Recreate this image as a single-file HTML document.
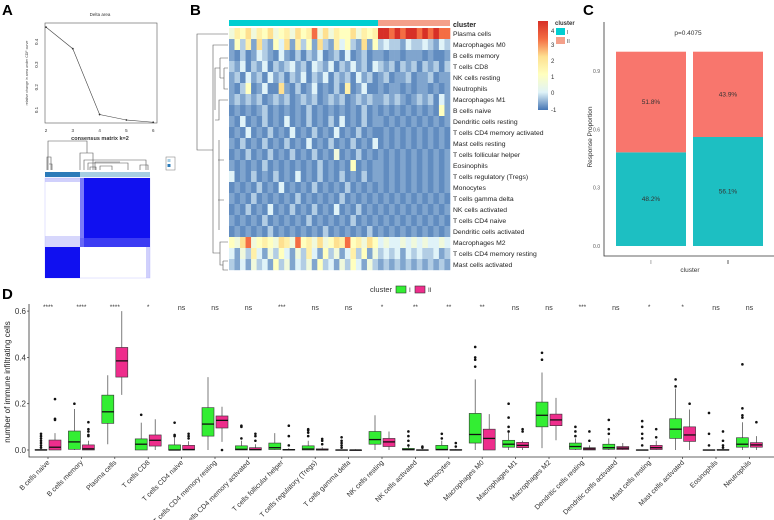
<!DOCTYPE html>
<html><head><meta charset="utf-8"><style>
html,body{margin:0;padding:0;background:#fff;width:774px;height:520px;overflow:hidden}
svg{font-family:"Liberation Sans",Arial,sans-serif;display:block}
</style></head><body>
<svg id="s" width="774" height="520" viewBox="0 0 774 520" xmlns="http://www.w3.org/2000/svg">
<g>
<text x="2" y="15" font-size="15" font-weight="bold">A</text>
<text x="100" y="16" font-size="4.5" text-anchor="middle" fill="#333">Delta area</text>
<rect x="45" y="23" width="112" height="100" fill="none" stroke="#555" stroke-width="0.6"/>
<g id="deltaG"></g>
<text x="100" y="140" font-size="5.5" font-weight="bold" text-anchor="middle" fill="#333">consensus matrix k=2</text>
<g stroke="#555" stroke-width="0.6" fill="none">
<path d="M48,170 V141 H87 V153 M47,170 V157 H51 V170 M49,164 H52 V170 M80,170 V153 H93 V170 M87,153 V153 M84,170 V160 H146 V170 M88,170 V163 H128 V170 M95,170 V162 H120 M100,170 V166 H112 V170 M90,170 V167 H96 V170 M140,170 V165 H148 V170"/>
</g>
<rect x="45" y="172" width="35" height="5" fill="#2b7bb9"/>
<rect x="80" y="172" width="70" height="5" fill="#a6cee3"/>
<rect x="45" y="178" width="105" height="100" fill="#fff" stroke="#c8c8ff" stroke-width="0.5"/>
<rect x="80" y="178" width="70" height="69" fill="#1010f0"/>
<rect x="45" y="247" width="35" height="31" fill="#1010f0"/>
<rect x="80" y="178" width="4" height="69" fill="#7a7af8"/>
<rect x="80" y="238" width="70" height="9" fill="#5a5af5" opacity="0.6"/>
<rect x="45" y="178" width="35" height="4" fill="#b0b0fa" opacity="0.6"/>
<rect x="45" y="236" width="35" height="11" fill="#b0b0fa" opacity="0.5"/>
<rect x="146" y="247" width="4" height="31" fill="#b0b0fa" opacity="0.6"/>
<rect x="166" y="157" width="9" height="13" fill="#fff" stroke="#777" stroke-width="0.5"/>
<rect x="167.5" y="159" width="3" height="3" fill="#a6cee3"/>
<rect x="167.5" y="164" width="3" height="3" fill="#2b7bb9"/>
</g>
<g>
<text x="190" y="15" font-size="15" font-weight="bold">B</text>
<g id="heatG"></g>
<g stroke="#555" stroke-width="0.6" fill="none">
<path d="M228,34 H197 V150 H213 M213,150 V45 H228 M213,150 V253 H220 M220,253 V242 H228 M220,253 V265 H223 M223,261 V270 H228 M223,261 H228 M215,110 V68 H220 M220,58 V78 M220,58 H228 M220,78 H224 M224,68 V89 H228 M224,68 H228 M215,120 H219 V100 H228 M219,140 V230 M218,160 H224 M218,200 H224"/>
</g>
<text x="453" y="27" font-size="7" font-weight="bold" fill="#222">cluster</text>
<g>
<defs><linearGradient id="cb" x1="0" y1="1" x2="0" y2="0">
<stop offset="0" stop-color="#4575b4"/><stop offset="0.2" stop-color="#e0f3f8"/><stop offset="0.4" stop-color="#ffffbf"/><stop offset="0.6" stop-color="#fee090"/><stop offset="0.8" stop-color="#f46d43"/><stop offset="1" stop-color="#d73027"/></linearGradient></defs>
<rect x="538" y="21" width="10" height="89" fill="url(#cb)"/>
<g font-size="6" fill="#333">
<text x="551" y="33">4</text><text x="551" y="47">3</text><text x="551" y="63">2</text><text x="551" y="79">1</text><text x="551" y="95">0</text><text x="551" y="112">-1</text></g>
</g>
<g>
<text x="555" y="25" font-size="6" font-weight="bold" fill="#333">cluster</text>
<rect x="556" y="28" width="9" height="7" fill="#00ced1"/>
<rect x="556" y="37" width="9" height="7" fill="#f4a08a"/>
<text x="567" y="34" font-size="5" fill="#333">I</text><text x="567" y="43" font-size="5" fill="#333">II</text>
</g>
</g>
<g>
<text x="583" y="15" font-size="15" font-weight="bold">C</text>
<g id="propG"></g>
</g>
<g>
<text x="2" y="299" font-size="15" font-weight="bold">D</text>
<g>
<text x="370" y="292" font-size="7.5" fill="#333">cluster</text>
<rect x="396" y="286" width="10" height="7" fill="#33ee33" stroke="#333" stroke-width="0.6"/>
<text x="409" y="292" font-size="6.5" fill="#333">I</text>
<rect x="415" y="286" width="10" height="7" fill="#ee2d8c" stroke="#333" stroke-width="0.6"/>
<text x="428" y="292" font-size="6.5" fill="#333">II</text>
</g>
<text transform="translate(10,382) rotate(-90)" font-size="8" text-anchor="middle" fill="#222">number of immune infiltrating  cells</text>
<g id="boxG"></g>
</g>
</svg>
<script>
// ---------- Panel A data ----------
const deltaK = [2,3,4,5,6];
const deltaVals = [0.465,0.37,0.08,0.056,0.046];
const deltaYTicks = [0.1,0.2,0.3,0.4];
// ---------- Panel B data ----------
const heatRows = ["Plasma cells","Macrophages M0","B cells memory","T cells CD8","NK cells resting","Neutrophils","Macrophages M1","B cells naive","Dendritic cells resting","T cells CD4 memory activated","Mast cells resting","T cells follicular helper","Eosinophils","T cells regulatory (Tregs)","Monocytes","T cells gamma delta","NK cells activated","T cells CD4 naive","Dendritic cells activated","Macrophages M2","T cells CD4 memory resting","Mast cells activated"];
const heatC1 = ["465746574564756847465574656","152617215371625172163521715","102013210310202130120301201","213021302123120321302131203","120312031202130213021203120","102501300710201301020601300","121212012120121201212012121","010101201010102010101010201","103010201030102010203010201","010301020103010201030102010","102010201020103010201020103","010201020102010201040102010","101010201010101020101050101","301020102010301020102010201","010102010301010201010201010","101020101010201010102010101","010201030102010201030102010","101010201010102010101020101","010101020101010102010101020","547845654764856474576856475","314263142531426315241362514","213142315241324152314253142"];
const heatC2 = ["9989899898988","2322132232132","1011011101001","2120212021202","1201120112011","1011010110101","1212101212031","0101010101051","1010101010101","0101010101010","0101010101010","1010101010101","1010101010101","1010101010101","1010101010101","0101010101010","1010101010101","0101010101010","1010101010101","3433434343343","2323132322312","1212121212121"];
const levelValues = [-0.82,-0.62,-0.3,0,0.5,1,1.5,2,3,4];
// ---------- Panel C data ----------
const propCats = ["I","II"];
const propCluster1 = [0.482,0.561];
const propCluster2 = [0.518,0.439];
const propTicks = [0.0,0.3,0.6,0.9];
// ---------- Panel D data ----------
const cells = ["B cells naive","B cells memory","Plasma cells","T cells CD8","T cells CD4 naive","T cells CD4 memory resting","T cells CD4 memory activated","T cells follicular helper","T cells regulatory (Tregs)","T cells gamma delta","NK cells resting","NK cells activated","Monocytes","Macrophages M0","Macrophages M1","Macrophages M2","Dendritic cells resting","Dendritic cells activated","Mast cells resting","Mast cells activated","Eosinophils","Neutrophils"];
const signif = ["****","****","****","*","ns","ns","ns","***","ns","ns","*","**","**","**","ns","ns","***","ns","*","*","ns","ns"];
// [whiskerLow, q1, median, q3, whiskerHigh]
const boxI = [[0,0,0,0.002,0.005],[0,0.003,0.035,0.082,0.177],[0.025,0.115,0.165,0.237,0.323],[0,0,0.025,0.048,0.118],[0,0,0,0.022,0.055],[0,0.06,0.112,0.183,0.315],[0,0,0.003,0.018,0.04],[0,0.002,0.01,0.03,0.073],[0,0,0.004,0.018,0.04],[0,0,0,0.001,0.002],[0,0.025,0.045,0.08,0.15],[0,0,0.002,0.007,0.015],[0,0,0.002,0.02,0.04],[0,0.03,0.067,0.158,0.305],[0,0.012,0.025,0.042,0.075],[0.008,0.1,0.15,0.207,0.335],[0,0.003,0.015,0.03,0.05],[0,0.003,0.01,0.025,0.05],[0,0,0,0.001,0.002],[0,0.05,0.09,0.135,0.265],[0,0,0,0.001,0.002],[0,0.012,0.025,0.053,0.12]];
const boxII = [[0,0,0.012,0.043,0.073],[0,0,0.005,0.022,0.04],[0.238,0.315,0.385,0.443,0.6],[0,0.017,0.042,0.065,0.133],[0,0,0.002,0.02,0.038],[0.035,0.095,0.128,0.147,0.187],[0,0,0.002,0.01,0.025],[0,0,0.001,0.003,0.008],[0,0,0.001,0.005,0.012],[0,0,0,0,0.003],[0,0.015,0.035,0.05,0.08],[0,0,0,0.001,0.003],[0,0,0,0.002,0.005],[0,0,0.05,0.09,0.155],[0,0.01,0.02,0.033,0.04],[0.042,0.105,0.13,0.155,0.225],[0,0,0.005,0.01,0.02],[0,0.002,0.008,0.015,0.03],[0,0.002,0.01,0.02,0.04],[0,0.037,0.065,0.1,0.175],[0,0,0,0.002,0.005],[0,0.012,0.022,0.032,0.06]];
const outI = [[0.01,0.02,0.03,0.04,0.05,0.06,0.07],[0.2],[],[0.152],[0.06,0.065,0.118],[],[0.05,0.1,0.105],[],[0.06,0.075,0.085,0.09],[0.01,0.02,0.03,0.04,0.055],[],[0.02,0.04,0.06,0.08],[0.05,0.07],[0.36,0.39,0.4,0.445],[0.08,0.1,0.14,0.2],[0.39,0.42],[0.06,0.08,0.1],[0.07,0.09,0.13],[0.02,0.05,0.07,0.1,0.125],[0.275,0.305],[0.02,0.07,0.16],[0.14,0.15,0.18,0.37]];
const outII = [[0.13,0.135,0.22],[0.06,0.065,0.08,0.09,0.12],[],[],[0.05,0.06,0.07],[0],[0.04,0.06,0.07],[0.02,0.06,0.105],[0.025,0.04,0.048],[],[],[0.01,0.015],[0.015,0.03],[],[0.08,0.09],[],[0.04,0.08],[],[0.055,0.09],[0.2],[0.01,0.02,0.04,0.08],[0.12]];
const boxYTicks = [0.0,0.2,0.4,0.6];

const NS="http://www.w3.org/2000/svg";
function mk(tag, attrs, parent, txt){const e=document.createElementNS(NS,tag);for(const k in attrs)e.setAttribute(k,attrs[k]);if(txt!==undefined)e.textContent=txt;parent.appendChild(e);return e;}

// ---------- Panel A ----------
(function(){
  const g=document.getElementById('deltaG');
  const xs=k=>46+(k-2)*26.8, ys=v=>110-(v-0.1)*227;
  let d="";
  deltaK.forEach((k,i)=>{d+=(i?"L":"M")+xs(k)+","+ys(deltaVals[i]);});
  const line=mk('path',{d:d,fill:"none",stroke:"#444","stroke-width":0.6},g);
  
  
  deltaK.forEach((k,i)=>{
    const c=mk('circle',{cx:xs(k),cy:ys(deltaVals[i]),r:0.9,fill:"#333"},g);
    
    
    const t=mk('text',{x:xs(k),y:132,"font-size":4.5,"text-anchor":"middle",fill:"#333"},g,String(k));
    
    
  });
  deltaYTicks.forEach(v=>{
    const t=mk('text',{transform:`translate(38,${ys(v)}) rotate(-90)`,"font-size":4.5,"text-anchor":"middle",fill:"#333"},g,String(v));
    
    
  });
  const yl=mk('text',{transform:"translate(28,73) rotate(-90)","font-size":3.6,"text-anchor":"middle",fill:"#444"},g,"relative change in area under CDF curve");
  
  
})();

// ---------- Panel B ----------
(function(){
  const g=document.getElementById('heatG');
  const stops=[[-1,[69,117,180]],[0,[224,243,248]],[1,[255,255,191]],[2,[254,224,144]],[3,[244,109,67]],[4,[215,48,39]]];
  function col(v){for(let i=0;i<stops.length-1;i++){const a=stops[i],b=stops[i+1];if(v<=b[0]){const t=Math.max(0,(v-a[0])/(b[0]-a[0]));return "rgb("+a[1].map((c,j)=>Math.round(c+(b[1][j]-c)*t)).join(",")+")";}}return "rgb(215,48,39)";}
  const x0=229,xs=378,x1=450,y0=28,rh=11;
  const b1=mk('rect',{x:x0,y:20,width:xs-x0,height:6,fill:"#00ced1"},g);
  
  
  const b2=mk('rect',{x:xs,y:20,width:x1-xs,height:6,fill:"#f4a08a"},g);
  
  
  heatRows.forEach((name,r)=>{
    [[heatC1[r],x0,xs],[heatC2[r],xs,x1]].forEach(([s,a,b])=>{
      const w=(b-a)/s.length;
      for(let i=0;i<s.length;i++){
        const c=mk('rect',{x:a+i*w,y:y0+r*rh,width:w+0.3,height:rh+0.2,fill:col(levelValues[+s[i]])},g);
        
        
      }
    });
    const t=mk('text',{x:453,y:y0+r*rh+8,"font-size":6.8,fill:"#222"},g,name);
    
    
  });
})();

// ---------- Panel C ----------
(function(){
  const g=document.getElementById('propG');
  const y=v=>246-v*194.3;
  const bx=[616,693], bw=70;
  const ax=mk('path',{d:"M604,22 V256 H774",fill:"none",stroke:"#333","stroke-width":0.8},g);
  
  
  propTicks.forEach(v=>{
    const t=mk('text',{x:600,y:y(v)+2,"font-size":5,"text-anchor":"end",fill:"#555"},g,v.toFixed(1));
    
    
  });
  propCats.forEach((c,i)=>{
    const a=propCluster1[i], b=propCluster2[i];
    const r1=mk('rect',{x:bx[i],y:y(a),width:bw,height:y(0)-y(a),fill:"#1dbfc2"},g);
    
    
    const r2=mk('rect',{x:bx[i],y:y(a+b),width:bw,height:y(a)-y(a+b),fill:"#f8766d"},g);
    
    
    const t1=mk('text',{x:bx[i]+bw/2,y:y(a/2)+2,"font-size":6.5,"text-anchor":"middle",fill:"#333"},g,(a*100).toFixed(1)+"%");
    
    
    const t2=mk('text',{x:bx[i]+bw/2,y:y(a+b/2)+2,"font-size":6.5,"text-anchor":"middle",fill:"#333"},g,(b*100).toFixed(1)+"%");
    
    
    const tk=mk('text',{x:bx[i]+bw/2,y:264,"font-size":5,"text-anchor":"middle",fill:"#555"},g,c);
    
    
  });
  const p=mk('text',{x:688,y:35,"font-size":6.5,"text-anchor":"middle",fill:"#333"},g,"p=0.4075");
  
  
  const yt=mk('text',{transform:"translate(592,137) rotate(-90)","font-size":6.5,"text-anchor":"middle",fill:"#333"},g,"Response Proportion");
  
  
  const xt=mk('text',{x:690,y:272,"font-size":6.5,"text-anchor":"middle",fill:"#333"},g,"cluster");
  
  
})();

// ---------- Panel D ----------
(function(){
  const g=document.getElementById('boxG');
  const y=v=>450-v*231.5;
  const cx=i=>48+i*33.4;
  const ax=mk('path',{d:"M29,304 V457 H774",fill:"none",stroke:"#333","stroke-width":0.8},g);
  
  
  boxYTicks.forEach(v=>{
    const t=mk('text',{x:26,y:y(v)+3,"font-size":8,"text-anchor":"end",fill:"#333"},g,v.toFixed(1));
    
    
    const tm=mk('line',{x1:27,x2:29,y1:y(v),y2:y(v),stroke:"#333","stroke-width":0.7},g);
    
    
  });
  function box(x,b,outs,fill,nm){
    const w=12;
    const wl=mk('path',{d:`M${x},${y(b[0])} V${y(b[1])} M${x},${y(b[3])} V${y(b[4])}`,stroke:"#444","stroke-width":0.7},g);
    
    
    const r=mk('rect',{x:x-w/2,y:y(b[3]),width:w,height:Math.max(0.6,y(b[1])-y(b[3])),fill:fill,stroke:"#333","stroke-width":0.6},g);
    
    
    const m=mk('line',{x1:x-w/2,x2:x+w/2,y1:y(b[2]),y2:y(b[2]),stroke:"#111","stroke-width":1.3},g);
    
    
    outs.forEach(o=>{
      const c=mk('circle',{cx:x,cy:y(o),r:1.3,fill:"#111"},g);
      
      
    });
  }
  cells.forEach((name,i)=>{
    box(cx(i)-7,boxI[i],outI[i],"#33ee33","box-cluster-i");
    box(cx(i)+7,boxII[i],outII[i],"#ee2d8c","box-cluster-ii");
    const s=mk('text',{x:cx(i),y:signif[i]==="ns"?310:309,"font-size":signif[i]==="ns"?7:6.5,"text-anchor":"middle",fill:"#333"},g,signif[i]);
    
    
    const tm=mk('line',{x1:cx(i),x2:cx(i),y1:457,y2:459,stroke:"#333","stroke-width":0.7},g);
    
    
    const t=mk('text',{transform:`translate(${cx(i)+2},${463}) rotate(-45)`,"font-size":7,"text-anchor":"end",fill:"#333"},g,name);
    
    
  });
})();
</script>
</body></html>
